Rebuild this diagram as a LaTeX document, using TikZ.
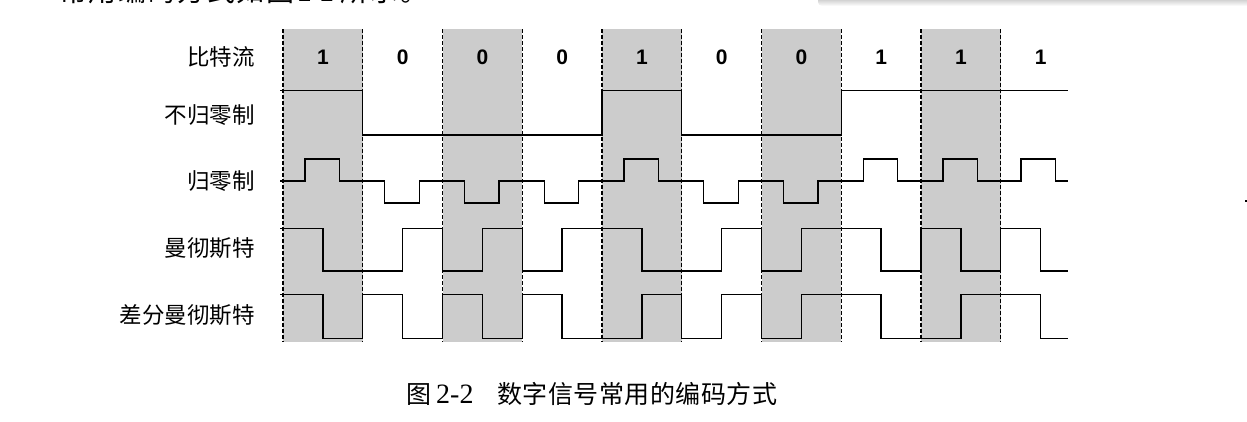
\documentclass[tikz,border=0pt]{standalone}
\usepackage{fontspec}
\setmainfont{Liberation Serif}
\newfontfamily\cjk{Noto Sans CJK SC}
\newfontfamily\arialb{Liberation Sans}[UprightFont=* Bold]
\newlength\cjkpitch
\newcommand\cjkcell[1]{\makebox[\cjkpitch][l]{#1}}
\begin{document}
\begin{tikzpicture}[x=1pt,y=-1pt,
  sig/.style={line width=1.4pt, line join=miter},
  bitband/.style={fill=black!20, draw=none},
  edgeline/.style={line width=1.1pt, dash pattern=on 4pt off 2pt},
  rowlabel/.style={anchor=east, inner sep=0pt, font=\cjk\fontsize{22.5}{26}\selectfont},
  bitlabel/.style={anchor=center, inner sep=0pt, font=\arialb\fontsize{21}{24}\selectfont},
]
\useasboundingbox (0,0) rectangle (1247,421);

% top text line (cut off by the page edge)
\node[anchor=base west, inner sep=0pt] (toptext) at (59,1.5)
  {\setlength\cjkpitch{29.6pt}%
   {\cjk\fontsize{28}{30}\selectfont\cjkcell{常}\cjkcell{用}\cjkcell{编}\cjkcell{码}\cjkcell{方}\cjkcell{式}\cjkcell{如}\cjkcell{图}}%
   \hspace{2pt}{\fontsize{27}{30}\selectfont 2-2}\hspace{7pt}%
   {\cjk\fontsize{28}{30}\selectfont\cjkcell{所}\cjkcell{示}\cjkcell{。}}};

% shadow at top right
\shade[top color=black!40, bottom color=white, rounded corners=4pt] (818,-8) rectangle (1252,6);

% shaded bit cells
\foreach \i in {0,2,4,6,8}
  \path[bitband] ({283+79.75*\i},29) rectangle ({283+79.75*(\i+1)},342);
% dashed bit boundaries
\foreach \i in {0,...,9}
  \draw[edgeline] ({283+79.75*\i},29) -- ({283+79.75*\i},342);

% row labels
\node[rowlabel] (lbit) at (255,57) {比特流};
\node[rowlabel] (lnrz) at (255,115) {不归零制};
\node[rowlabel] (lrz) at (255,181) {归零制};
\node[rowlabel] (lman) at (255,248) {曼彻斯特};
\node[rowlabel] (ldman) at (255,315) {差分曼彻斯特};

% bit values
\foreach \b [count=\i from 0] in {1,0,0,0,1,0,0,1,1,1}
  \node[bitlabel] (bit\i) at ({283+79.75*\i+39.875},57) {\b};

% NRZ
\draw[sig] (280,90.7) -- (362.75,90.7) -- (362.75,135) -- (602,135) -- (602,90.7)
  -- (681.75,90.7) -- (681.75,135) -- (841.25,135) -- (841.25,90.7) -- (1068,90.7);

% RZ
\draw[sig] (280,181)
  -- (305,181) -- (305,159) -- (339.5,159) -- (339.5,181)
  -- (384.75,181) -- (384.75,203) -- (419.25,203) -- (419.25,181)
  -- (464.5,181) -- (464.5,203) -- (499,203) -- (499,181)
  -- (544.25,181) -- (544.25,203) -- (578.75,203) -- (578.75,181)
  -- (624,181) -- (624,159) -- (658.5,159) -- (658.5,181)
  -- (703.75,181) -- (703.75,203) -- (738.25,203) -- (738.25,181)
  -- (783.5,181) -- (783.5,203) -- (818,203) -- (818,181)
  -- (863.25,181) -- (863.25,159) -- (897.75,159) -- (897.75,181)
  -- (943,181) -- (943,159) -- (977.5,159) -- (977.5,181)
  -- (1021,181) -- (1021,159) -- (1055.5,159) -- (1055.5,181)
  -- (1068,181);

% Manchester
\draw[sig] (280,228.3)
  -- (322.875,228.3) -- (322.875,271) -- (402.625,271) -- (402.625,228.3)
  -- (442.5,228.3) -- (442.5,271) -- (482.375,271) -- (482.375,228.3)
  -- (522.25,228.3) -- (522.25,271) -- (562.125,271) -- (562.125,228.3)
  -- (641.875,228.3) -- (641.875,271) -- (721.625,271) -- (721.625,228.3)
  -- (761.5,228.3) -- (761.5,271) -- (801.375,271) -- (801.375,228.3)
  -- (881.125,228.3) -- (881.125,271) -- (921,271) -- (921,228.3)
  -- (960.875,228.3) -- (960.875,271) -- (1000.75,271) -- (1000.75,228.3)
  -- (1040.625,228.3) -- (1040.625,271) -- (1068,271);

% Differential Manchester
\draw[sig] (280,294.3)
  -- (322.875,294.3) -- (322.875,338.3) -- (362.75,338.3) -- (362.75,294.3)
  -- (402.625,294.3) -- (402.625,338.3) -- (442.5,338.3) -- (442.5,294.3)
  -- (482.375,294.3) -- (482.375,338.3) -- (522.25,338.3) -- (522.25,294.3)
  -- (562.125,294.3) -- (562.125,338.3) -- (641.875,338.3) -- (641.875,294.3)
  -- (681.75,294.3) -- (681.75,338.3) -- (721.625,338.3) -- (721.625,294.3)
  -- (761.5,294.3) -- (761.5,338.3) -- (801.375,338.3) -- (801.375,294.3)
  -- (881.125,294.3) -- (881.125,338.3) -- (960.875,338.3) -- (960.875,294.3)
  -- (1040.625,294.3) -- (1040.625,338.3) -- (1068,338.3);

% caption
\node[anchor=base west, inner sep=0pt] (caption) at (406.5,403)
  {{\cjk\fontsize{25}{30}\selectfont\setlength\cjkpitch{26.5pt}\cjkcell{图}}%
   \hspace{3pt}{\fontsize{28}{30}\selectfont 2-2}\hspace{24pt}%
   {\cjk\fontsize{25}{30}\selectfont\setlength\cjkpitch{25.45pt}%
    \cjkcell{数}\cjkcell{字}\cjkcell{信}\cjkcell{号}\cjkcell{常}\cjkcell{用}\cjkcell{的}\cjkcell{编}\cjkcell{码}\cjkcell{方}\cjkcell{式}}};

% small mark at right edge
\fill (1244.5,200) rectangle (1247,202);
\end{tikzpicture}
\end{document}
